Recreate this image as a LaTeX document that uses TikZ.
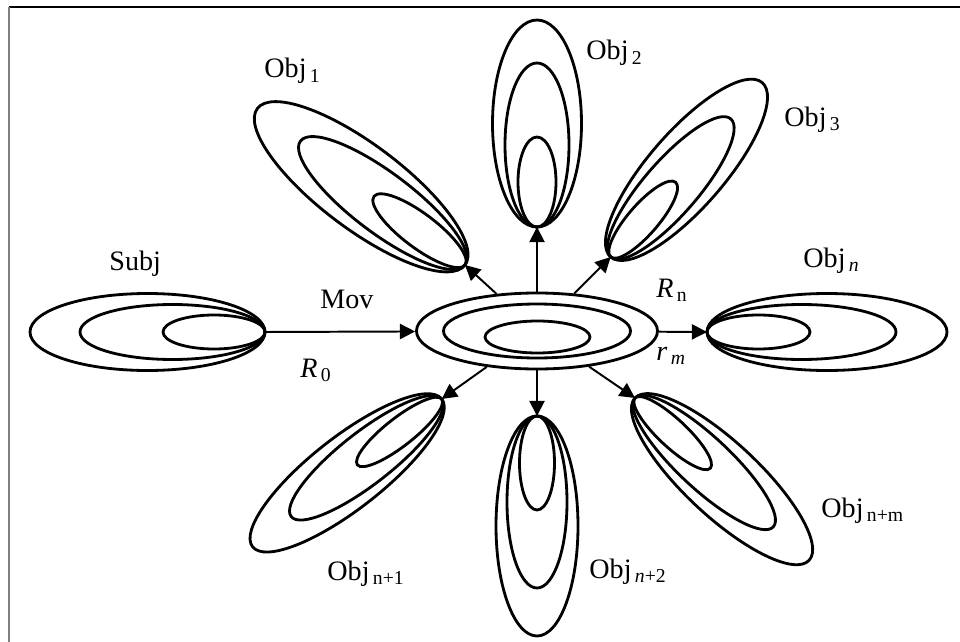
\documentclass[tikz,border=0pt]{standalone}
\usepackage{fontspec}
\setmainfont{Liberation Serif}
\usetikzlibrary{shapes, arrows.meta, positioning}

\newcommand{\lowsub}[1]{\hspace{0.12em}\raisebox{-3.5pt}{\fontsize{14}{14}\selectfont #1}}

\begin{document}
\begin{tikzpicture}[x=0.25mm, y=0.25mm, line width=2pt,
    lbl/.style={anchor=base west, inner sep=0pt, font=\fontsize{20}{24}\selectfont},
    arr/.style={line width=1.4pt, -{Triangle[length=3.8mm, width=3.8mm]}}]

\useasboundingbox (0,0) rectangle (960,-642);
\draw[line width=0.5mm] (9,-7) -- (960,-7);
\draw[line width=0.5mm, gray] (9,-7) -- (9,-642);

% central ellipses
\node[draw, ellipse, minimum width=60.25mm, minimum height=19mm, inner sep=0pt] (mov) at (537,-331) {};
\draw (mov.center) ellipse [x radius=93.5, y radius=27];
\draw (537.5,-337) ellipse [x radius=52.5, y radius=16];

% nested ellipses: tip / direction / lengths / half widths
\foreach \n/\x/\y/\a/\la/\lb/\lc/\wa/\wb/\wc in {
    subj/265/332/180/235/185/102/38.5/27.5/17,
    o1/465/265/143/260/206/114/42/30/17,
    o2/537/227/90/207/164/90/44.5/32/19,
    o3/610.7/257/49/231/183/99/38/27/15,
    on/707/332/0/240/189/103/38.5/27.5/17,
    on1/441.7/399/218/240/191/107/36/26/14,
    on2/537/416/270/220/172/94/41/30/17.5,
    onm/635/398/-43/238/189/103/37/26/14}
{
    \coordinate (\n) at (\x,-\y);
    \begin{scope}[shift={(\n)}, rotate=\a]
        \draw (\la/2,0) ellipse [x radius=\la/2, y radius=\wa];
        \draw (\lb/2,0) ellipse [x radius=\lb/2, y radius=\wb];
        \draw (\lc/2,0) ellipse [x radius=\lc/2, y radius=\wc];
    \end{scope}
}

\draw[arr] (subj) -- (mov);
\foreach \t in {o1, o2, o3, on, on1, on2, onm}
    \draw[arr] (mov) -- (\t);

% labels
\node[lbl] (subjlbl) at (108,-270) {Subj};
\node[lbl] (movlbl) at (319,-308) {Mov};
\node[lbl] (rzero) at (299,-377) {\textit{R}\lowsub{0}};
\node[lbl] (rn) at (655,-297) {\textit{R}\lowsub{n}};
\node[lbl] (rm) at (655,-360) {\textit{r}\lowsub{\textit{m}}};
\node[lbl] (o1lbl) at (263,-78) {Obj\lowsub{1}};
\node[lbl] (o2lbl) at (585,-60) {Obj\lowsub{2}};
\node[lbl] (o3lbl) at (783,-126) {Obj\lowsub{3}};
\node[lbl] (onlbl) at (802,-267) {Obj\lowsub{\textit{n}}};
\node[lbl] (on1lbl) at (326,-580) {Obj\lowsub{n+1}};
\node[lbl] (on2lbl) at (588,-578) {Obj\lowsub{\textit{n}+2}};
\node[lbl] (onmlbl) at (820,-517) {Obj\lowsub{n+m}};
\end{tikzpicture}
\end{document}
